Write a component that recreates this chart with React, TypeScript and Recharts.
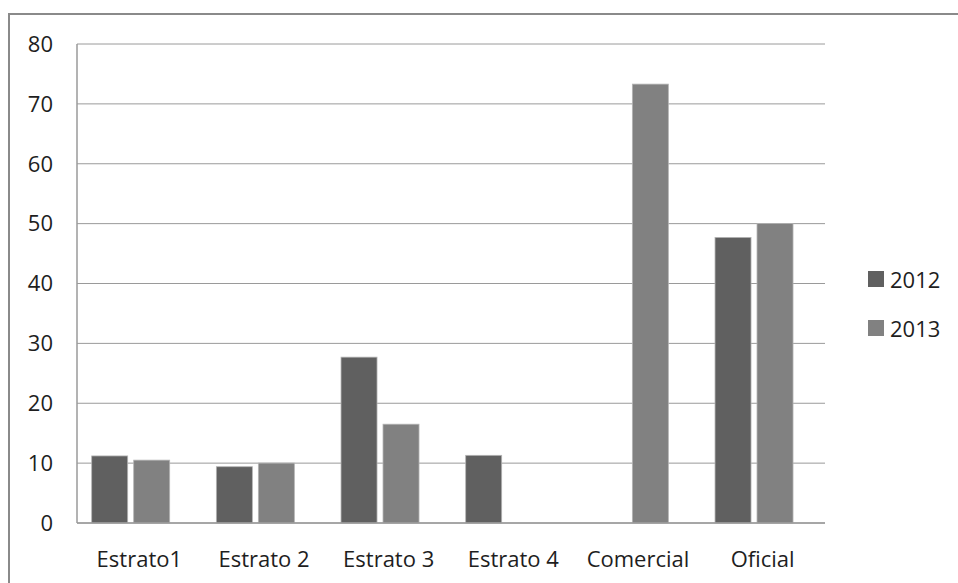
import React from "react";
import { BarChart, Bar, XAxis, YAxis, CartesianGrid } from "recharts";

const categories = ["Estrato1", "Estrato 2", "Estrato 3", "Estrato 4", "Comercial", "Oficial"];
const values2012: (number | null)[] = [11.2, 9.4, 27.7, 11.3, null, 47.7];
const values2013: (number | null)[] = [10.5, 10.0, 16.5, null, 73.3, 50.0];
const yTicks = [0, 10, 20, 30, 40, 50, 60, 70, 80];
const seriesNames = ["2012", "2013"];
const seriesColors = ["#606060", "#818181"];

const data = categories.map((c, i) => ({ name: c, y2012: values2012[i], y2013: values2013[i] }));

const FONT = "'Open Sans', sans-serif";
const TEXT = "#1e1e1e";
const GRID = "#9a9a9a";

const ShiftedBar = (props: any) => {
  const { x, y, width, height, fill, value } = props;
  if (value == null || !height || height <= 0) return null;
  return (
    <rect
      x={x - 9}
      y={y}
      width={width}
      height={height}
      fill={fill}
      stroke="#b4b4b4"
      strokeWidth={0.8}
    />
  );
};

const LegendBox = () => (
  <div style={{ position: "absolute", left: 868, top: 254, fontFamily: FONT, fontSize: 22, color: TEXT }}>
    {seriesNames.map((n, i) => (
      <div key={n} style={{ display: "flex", alignItems: "center", height: 49, lineHeight: "22px" }}>
        <div style={{ width: 16, height: 16, background: seriesColors[i], marginRight: 6 }} />
        <span>{n}</span>
      </div>
    ))}
  </div>
);

export default function App() {
  return (
    <div style={{ position: "fixed", left: 0, top: 0, width: 958, height: 583, background: "#fff", overflow: "hidden" }}>
      <div
        style={{
          position: "absolute",
          left: 8,
          top: 13,
          width: 2000,
          height: 2000,
          borderTop: "2px solid #8a8a8a",
          borderLeft: "2px solid #8a8a8a",
        }}
      />
      <div style={{ position: "absolute", left: 0, top: 0 }}>
        <BarChart
          width={958}
          height={583}
          data={data}
          margin={{ top: 44, right: 133, bottom: 0, left: 0 }}
          barCategoryGap="19%"
          barGap={6}
        >
          <CartesianGrid vertical={false} stroke={GRID} strokeWidth={1} />
          <XAxis
            dataKey="name"
            height={60}
            axisLine={{ stroke: GRID, strokeWidth: 1.5 }}
            tickLine={false}
            tickSize={0}
            tickMargin={28}
            tick={{ fill: TEXT, fontSize: 22, fontFamily: FONT }}
            interval={0}
          />
          <YAxis
            width={77}
            domain={[0, 80]}
            ticks={yTicks}
            axisLine={{ stroke: GRID, strokeWidth: 1.5 }}
            tickLine={false}
            tickSize={0}
            tickMargin={24}
            tick={{ fill: TEXT, fontSize: 22, fontFamily: FONT }}
            interval={0}
          />
          <Bar dataKey="y2012" name={seriesNames[0]} fill={seriesColors[0]} isAnimationActive={false} shape={ShiftedBar} />
          <Bar dataKey="y2013" name={seriesNames[1]} fill={seriesColors[1]} isAnimationActive={false} shape={ShiftedBar} />
        </BarChart>
      </div>
      <LegendBox />
    </div>
  );
}
